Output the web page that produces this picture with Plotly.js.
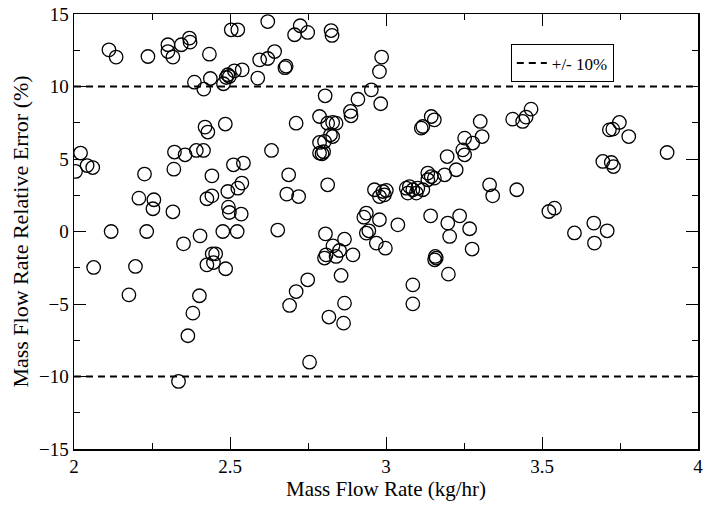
<!DOCTYPE html>
<html>
<head>
<meta charset="utf-8">
<script src="https://cdn.plot.ly/plotly-3.0.1.min.js"></script>
<style>html,body{margin:0;padding:0;background:#fff;}#chart{width:704px;height:505px;}</style>
</head>
<body>
<div id="chart"></div>
<script>
// Mass flow rate (kg/hr)
const flowRate = [
2.005,2.021,2.042,2.060,2.063,2.112,2.119,2.135,2.176,2.197,
2.208,2.226,2.233,2.237,2.253,2.256,2.301,2.301,2.317,2.317,
2.320,2.322,2.335,2.344,2.351,2.356,2.365,2.370,2.372,2.381,
2.386,2.392,2.402,2.404,2.415,2.416,2.420,2.426,2.426,2.429,
2.434,2.437,2.442,2.442,2.443,2.454,2.447,2.479,2.485,2.486,
2.488,2.493,2.493,2.495,2.498,2.498,2.477,2.504,2.514,2.511,
2.523,2.525,2.525,2.536,2.538,2.539,2.543,2.589,2.595,2.621,
2.621,2.633,2.643,2.653,2.676,2.680,2.682,2.688,2.691,2.707,
2.712,2.712,2.720,2.725,2.749,2.749,2.755,2.787,2.787,2.803,
2.822,2.829,2.787,2.795,2.800,2.805,2.806,2.808,2.803,2.813,
2.813,2.817,2.829,2.840,2.824,2.827,2.830,2.851,2.840,2.856,
2.864,2.867,2.867,2.886,2.888,2.894,2.910,2.929,2.937,2.937,
2.945,2.953,2.963,2.969,2.979,2.979,2.979,2.983,2.986,2.990,
2.995,2.998,3.001,3.038,3.065,3.070,3.075,3.086,3.097,3.102,
3.086,3.086,3.113,3.118,3.118,3.134,3.134,3.145,3.143,3.145,
3.155,3.155,3.158,3.161,3.156,3.188,3.196,3.198,3.200,3.204,
3.225,3.236,3.246,3.252,3.252,3.268,3.276,3.278,3.302,3.308,
3.332,3.342,3.406,3.419,3.438,3.449,3.465,3.522,3.540,3.604,
3.666,3.668,3.695,3.709,3.716,3.727,3.722,3.729,3.748,3.778,
3.901
];
// Relative error (%)
const relError = [
4.14,5.41,4.55,4.41,-2.48,12.53,0.0,12.03,-4.37,-2.41,
2.30,3.96,0.0,12.07,1.57,2.19,12.88,12.41,12.03,1.36,
4.30,5.48,-10.34,12.88,-0.85,5.29,-7.19,13.34,13.06,-5.63,
10.30,5.59,-4.43,-0.30,5.59,9.82,7.20,2.26,-2.30,6.86,
12.23,10.55,3.84,2.46,-1.54,-1.54,-2.14,10.19,7.41,-2.57,
10.62,10.81,2.76,1.68,1.31,10.69,0.0,13.91,11.08,4.60,
0.0,13.91,2.99,1.20,3.34,11.15,4.72,10.58,11.84,11.93,
14.48,5.59,12.41,0.10,11.30,11.40,2.58,3.91,-5.10,13.57,
7.47,-4.14,2.41,14.19,13.73,-3.33,-9.01,7.93,6.14,6.21,
6.67,6.55,5.41,5.36,5.50,9.36,-0.16,-1.61,-1.83,7.47,
3.22,-5.90,7.52,7.47,13.86,13.52,-0.99,-1.31,-1.72,-3.03,
-6.32,-4.94,-0.53,8.28,7.98,-1.61,9.12,0.99,1.27,-0.11,
0.05,9.77,2.88,-0.80,0.81,11.03,2.41,8.81,12.03,2.76,
2.53,-1.15,2.83,0.46,2.99,2.65,3.10,2.88,2.65,2.99,
-3.68,-4.99,7.13,7.24,2.88,4.03,3.57,3.79,1.08,7.93,
7.70,3.68,-1.72,-1.83,-1.95,3.91,5.17,0.58,-2.94,-0.34,
4.26,1.08,5.63,5.29,6.44,0.19,-1.21,6.10,7.59,6.55,
3.22,2.46,7.75,2.88,7.59,7.89,8.44,1.38,1.61,-0.10,
0.58,-0.80,4.83,0.05,7.01,7.06,4.76,4.48,7.52,6.55,
5.45
];
const limitX = [2, 4];
const upperLimit = [10, 10];
const lowerLimit = [-10, -10];
const limitLabel = "+/- 10%";
const xTickVals = [2, 2.5, 3, 3.5, 4];
const xTickText = ["2", "2.5", "3", "3.5", "4"];
const yTickVals = [-15, -10, -5, 0, 5, 10, 15];

const font = "Liberation Serif, Times New Roman, serif";
const dashStyle = {color: "black", width: 2, dash: "7px,5px"};

const traces = [
  {x: limitX, y: upperLimit, mode: "lines", line: dashStyle, name: limitLabel, legendgroup: "lim", showlegend: true, hoverinfo: "skip"},
  {x: limitX, y: lowerLimit, mode: "lines", line: dashStyle, name: limitLabel, legendgroup: "lim", showlegend: false, hoverinfo: "skip"},
  {x: flowRate, y: relError, mode: "markers", showlegend: false,
   marker: {symbol: "circle-open", size: 13.5, color: "black", line: {width: 1.3, color: "black"}}}
];

const axisCommon = {
  showline: true, linecolor: "black", linewidth: 1.5, mirror: "ticks",
  ticks: "inside", ticklen: 12, tickwidth: 1, tickcolor: "black",
  showgrid: false, zeroline: false,
  tickfont: {family: font, size: 19, color: "black"}
};

const layout = {
  width: 704, height: 505,
  margin: {l: 74, r: 6, t: 14, b: 56},
  paper_bgcolor: "white", plot_bgcolor: "white",
  font: {family: font, color: "black"},
  xaxis: Object.assign({}, axisCommon, {
    range: [2, 4], tickvals: xTickVals, ticktext: xTickText,
    minor: {ticks: "inside", dtick: 0.25, tick0: 2, ticklen: 6, tickwidth: 1, tickcolor: "black"},
    title: {text: "Mass Flow Rate (kg/hr)", font: {family: font, size: 21, color: "black"}, standoff: 0}
  }),
  yaxis: Object.assign({}, axisCommon, {
    range: [-15, 15], tickvals: yTickVals,
    minor: {ticks: "inside", dtick: 2.5, tick0: 0, ticklen: 6, tickwidth: 1, tickcolor: "black"},
    title: {text: "Mass Flow Rate Relative Error (%)", font: {family: font, size: 22, color: "black"}, standoff: 4}
  }),
  legend: {
    x: 0.70, y: 0.93, xanchor: "left", yanchor: "top",
    bgcolor: "white", bordercolor: "black", borderwidth: 1,
    font: {family: font, size: 17, color: "black"}
  },
  showlegend: true
};

Plotly.newPlot("chart", traces, layout, {staticPlot: true, displayModeBar: false});
</script>
</body>
</html>
